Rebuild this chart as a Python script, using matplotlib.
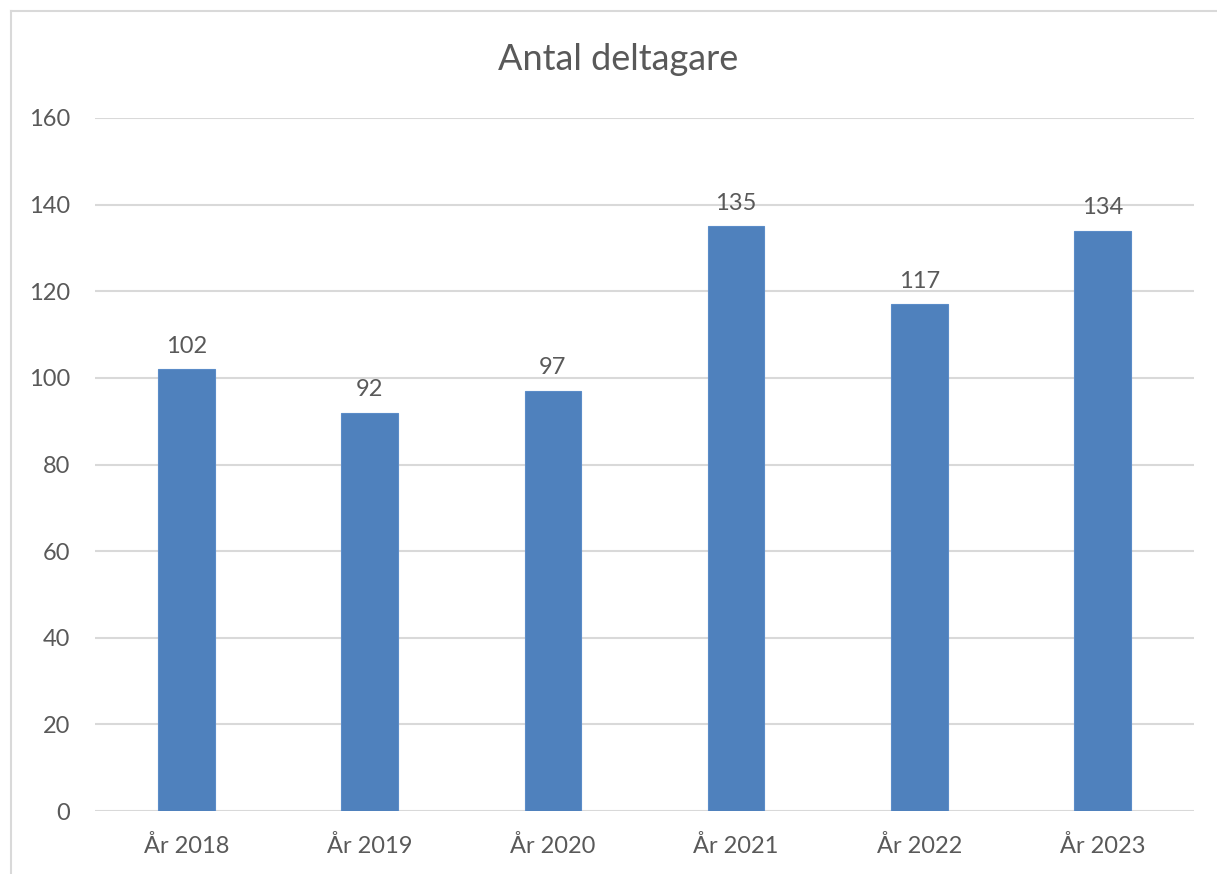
import matplotlib
matplotlib.use("Agg")
import matplotlib.pyplot as plt
from matplotlib.lines import Line2D

categories = ["År 2018", "År 2019", "År 2020", "År 2021", "År 2022", "År 2023"]
values = [102, 92, 97, 135, 117, 134]
yticks = [0, 20, 40, 60, 80, 100, 120, 140, 160]
title = "Antal deltagare"

W, H = 1217, 874
fig = plt.figure(figsize=(W / 100, H / 100), dpi=100)
plt.rcParams['font.family'] = ['Lato', 'DejaVu Sans']
txt = '#595959'

ax = fig.add_axes([95 / W, 1 - 811 / H, (1194 - 95) / W, (811 - 118) / H])
x = list(range(len(categories)))
bars = ax.bar(x, values, width=0.31, color='#4F81BD', edgecolor='#5B8CC8', linewidth=0.8, zorder=3)
for xi, v in zip(x, values):
    ax.annotate(str(v), (xi, v), xytext=(0, 9), textcoords='offset points',
                ha='center', va='bottom', fontsize=17, color=txt)

ax.set_xlim(-0.5, len(categories) - 0.5)
ax.set_ylim(0, 160)
ax.set_yticks(yticks)
ax.set_xticks(x)
ax.set_xticklabels(categories)
ax.tick_params(axis='both', length=0, labelsize=17, labelcolor=txt)
ax.tick_params(axis='y', pad=18)
ax.tick_params(axis='x', pad=17)
ax.grid(axis='y', color='#D9D9D9', linewidth=1.5, zorder=0)
for s in ax.spines.values():
    s.set_visible(False)

fig.text((493 + 743) / 2 / W, 1 - 60 / H, title, ha='center', va='center', fontsize=26, color=txt)

# outer chart border (top and left visible)
fig.add_artist(Line2D([11 / W, 11 / W], [0, 1 - 11 / H], transform=fig.transFigure, color='#D9D9D9', linewidth=1.5))
fig.add_artist(Line2D([11 / W, 1], [1 - 11 / H, 1 - 11 / H], transform=fig.transFigure, color='#D9D9D9', linewidth=1.5))

fig.savefig("out.png", dpi=100, facecolor='white')
